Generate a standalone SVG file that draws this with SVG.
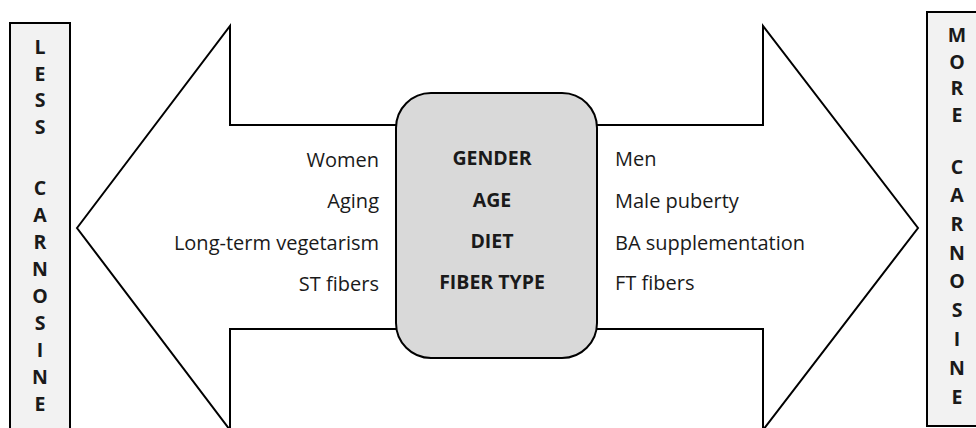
<svg xmlns="http://www.w3.org/2000/svg" width="976" height="428" viewBox="0 0 976 428">
<style>
.side{fill:#f2f2f2;stroke:#000;stroke-width:2}
.arrow{fill:#fff;stroke:#000;stroke-width:2;stroke-linejoin:miter}
.hub{fill:#d9d9d9;stroke:#000;stroke-width:2}
text{font-family:"Open Sans","Noto Sans","Liberation Sans",sans-serif;font-size:20px;fill:#1a1a1a}
.b{font-weight:bold;text-anchor:middle;font-size:19.5px}
.l{text-anchor:end}
.r{text-anchor:start}
</style>
<g id="connectors">
<path class="arrow" d="M77,228 L230,26 L230,125 L763,125 L763,26 L918,228 L763,430 L763,329 L230,329 L230,430 Z"/>
</g>
<g id="less">
<rect class="side" x="10" y="23" width="60" height="420"/>
<text class="b" x="40" y="54">L</text>
<text class="b" x="40" y="81">E</text>
<text class="b" x="40" y="107">S</text>
<text class="b" x="40" y="134">S</text>
<text class="b" x="40" y="195">C</text>
<text class="b" x="40" y="222">A</text>
<text class="b" x="40" y="249">R</text>
<text class="b" x="40" y="276">N</text>
<text class="b" x="40" y="303">O</text>
<text class="b" x="40" y="330">S</text>
<text class="b" x="40" y="357">I</text>
<text class="b" x="40" y="384">N</text>
<text class="b" x="40" y="411">E</text>
</g>
<g id="more">
<rect class="side" x="927" y="12" width="60" height="414"/>
<text class="b" x="957" y="42">M</text>
<text class="b" x="957" y="69">O</text>
<text class="b" x="957" y="95">R</text>
<text class="b" x="957" y="122">E</text>
<text class="b" x="957" y="174">C</text>
<text class="b" x="957" y="202">A</text>
<text class="b" x="957" y="231">R</text>
<text class="b" x="957" y="260">N</text>
<text class="b" x="957" y="288">O</text>
<text class="b" x="957" y="317">S</text>
<text class="b" x="957" y="346">I</text>
<text class="b" x="957" y="375">N</text>
<text class="b" x="957" y="404">E</text>
</g>
<g id="factors">
<rect class="hub" x="396" y="93" width="201" height="265" rx="35" ry="35"/>
<text class="b" x="492" y="165">GENDER</text>
<text class="b" x="492" y="207">AGE</text>
<text class="b" x="492" y="248">DIET</text>
<text class="b" x="492" y="289">FIBER TYPE</text>
</g>
<g id="less-labels">
<text class="l" x="379" y="167">Women</text>
<text class="l" x="379" y="208">Aging</text>
<text class="l" x="379" y="250">Long-term vegetarism</text>
<text class="l" x="379" y="291">ST fibers</text>
</g>
<g id="more-labels">
<text class="r" x="615" y="166">Men</text>
<text class="r" x="615" y="208">Male puberty</text>
<text class="r" x="615" y="250">BA supplementation</text>
<text class="r" x="615" y="290">FT fibers</text>
</g>
</svg>
